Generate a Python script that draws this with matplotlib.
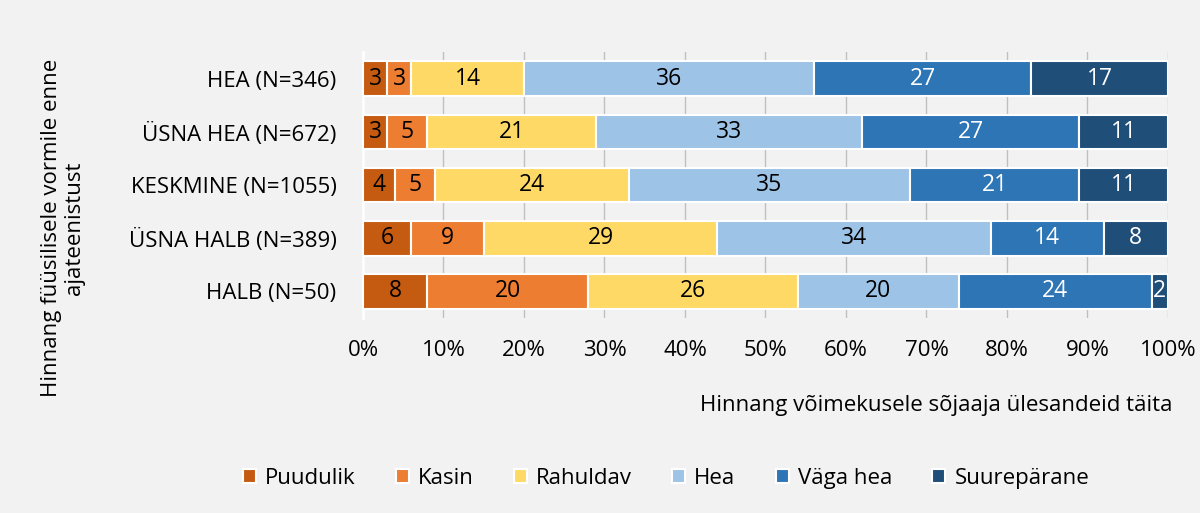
import matplotlib.pyplot as plt
import numpy as np

plt.rcParams["font.family"] = ["Open Sans", "DejaVu Sans"]

groups = ["HEA (N=346)", "ÜSNA HEA (N=672)", "KESKMINE (N=1055)",
          "ÜSNA HALB (N=389)", "HALB (N=50)"]
categories = ["Puudulik", "Kasin", "Rahuldav", "Hea", "Väga hea", "Suurepärane"]
colors = ["#C55A11", "#ED7D31", "#FFD966", "#9DC3E6", "#2E75B6", "#1F4E79"]
text_colors = ["black", "black", "black", "black", "white", "white"]

# percentages per group, one list per category
puudulik = [3, 3, 4, 6, 8]
kasin = [3, 5, 5, 9, 20]
rahuldav = [14, 21, 24, 29, 26]
hea = [36, 33, 35, 34, 20]
vaga_hea = [27, 27, 21, 14, 24]
suureparane = [17, 11, 11, 8, 2]
values = [puudulik, kasin, rahuldav, hea, vaga_hea, suureparane]

bg = "#F2F2F2"
fig = plt.figure(figsize=(12, 5.13), dpi=100, facecolor=bg)
ax = fig.add_axes([0.3025, 0.380, 0.6708, 0.5186], facecolor=bg)

y = np.arange(len(groups))
left = np.zeros(len(groups))
for vals, name, col, tcol in zip(values, categories, colors, text_colors):
    vals = np.array(vals)
    ax.barh(y, vals, left=left, height=0.65, color=col,
            edgecolor="white", linewidth=1.5, label=name, zorder=3)
    for xi, yi, v in zip(left + vals / 2, y, vals):
        ax.text(xi, yi, str(v), ha="center", va="center", color=tcol,
                fontsize=16.5, zorder=4)
    left += vals

ax.set_xlim(0, 100)
ax.set_ylim(len(groups) - 0.5, -0.5)
ax.set_yticks(y)
ax.set_yticklabels(groups, fontsize=16)
ax.set_xticks(np.arange(0, 101, 10))
ax.set_xticklabels([f"{v}%" for v in range(0, 101, 10)], fontsize=16)
ax.tick_params(axis="y", length=0, pad=19)
ax.tick_params(axis="x", length=0, pad=16)
ax.grid(axis="x", color="#BFBFBF", linewidth=1, zorder=0)
for s in ["top", "right", "bottom"]:
    ax.spines[s].set_visible(False)
ax.spines["left"].set_color("white")
ax.spines["left"].set_linewidth(2)

fig.text(0.9775, 0.21, "Hinnang võimekusele sõjaaja ülesandeid täita",
         ha="right", va="center", fontsize=16)
fig.text(0.0525, 0.556, "Hinnang füüsilisele vormile enne\najateenistust",
         ha="center", va="center", rotation=90, fontsize=16,
         linespacing=1.15)

fig.legend(loc="center", bbox_to_anchor=(0.555, 0.068), ncol=6, frameon=False,
           fontsize=16, handlelength=0.6, handleheight=0.6, columnspacing=1.8,
           handletextpad=0.4)

fig.savefig("out.png", dpi=100, facecolor=bg)
